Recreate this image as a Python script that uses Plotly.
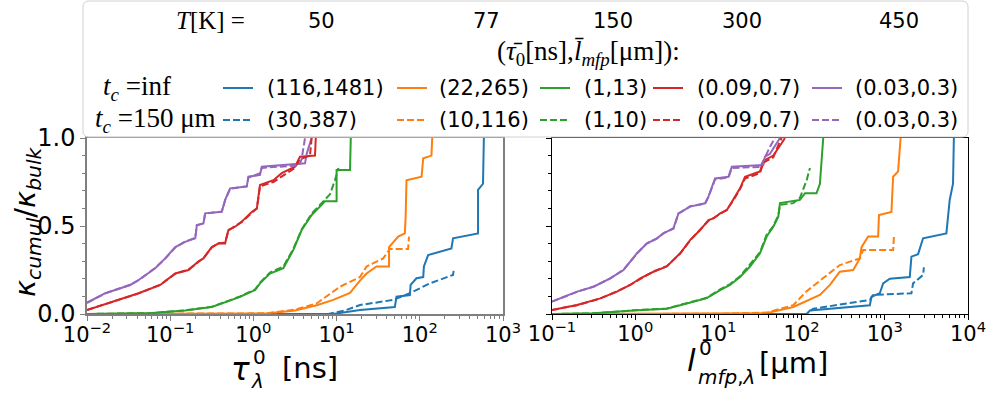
import plotly.graph_objects as go

W, H = 991, 394

# ---------------- data ----------------
temps = ["50", "77", "150", "300", "450"]
labels_inf = ["(116,1481)", "(22,265)", "(1,13)", "(0.09,0.7)", "(0.03,0.3)"]
labels_150 = ["(30,387)", "(10,116)", "(1,10)", "(0.09,0.7)", "(0.03,0.3)"]
colors = ["#1f77b4", "#ff7f0e", "#2ca02c", "#d62728", "#9467bd"]

left_tick_vals = [1e-2, 1e-1, 1e0, 1e1, 1e2, 1e3]
left_tick_text = ["10<sup>−2</sup>", "10<sup>−1</sup>", "10<sup>0</sup>", "10<sup>1</sup>", "10<sup>2</sup>", "10<sup>3</sup>"]
right_tick_vals = [1e-1, 1e0, 1e1, 1e2, 1e3, 1e4]
right_tick_text = ["10<sup>−1</sup>", "10<sup>0</sup>", "10<sup>1</sup>", "10<sup>2</sup>", "10<sup>3</sup>", "10<sup>4</sup>"]
y_tick_vals = [0.0, 0.5, 1.0]
y_tick_text = ["0.0", "0.5", "1.0"]

# --- left panel: kappa_cumul / kappa_bulk vs tau [ns] ---
tau_50_inf_x = [0.01, 9.12, 19.1, 31.6, 50.1, 52.5, 75.9, 77.6, 91.2, 110, 112, 126, 240, 251, 501, 501, 575, 589]
tau_50_inf_y = [0.0, 0.0, 0.023, 0.03, 0.04, 0.098, 0.108, 0.165, 0.203, 0.21, 0.27, 0.335, 0.373, 0.43, 0.458, 0.705, 0.74, 1.0]
tau_50_150_x = [0.01, 7.94, 12.6, 19.1, 47.9, 75.9, 132, 251, 257]
tau_50_150_y = [0.0, 0.0, 0.02, 0.051, 0.08, 0.118, 0.174, 0.222, 0.26]

tau_77_inf_x = [0.01, 1.0, 1.45, 3.16, 5.75, 9.12, 14.5, 19.1, 22.9, 30.2, 42.7, 42.7, 47.9, 55.0, 66.1, 67.6, 69.2, 105, 110, 138, 141]
tau_77_inf_y = [0.0, 0.001, 0.003, 0.02, 0.05, 0.08, 0.12, 0.19, 0.23, 0.27, 0.27, 0.38, 0.41, 0.44, 0.458, 0.553, 0.76, 0.78, 0.885, 0.90, 1.0]
tau_77_150_x = [0.01, 1.45, 3.16, 5.75, 11.0, 19.1, 22.9, 36.3, 43.7, 72.4, 74.1]
tau_77_150_y = [0.0, 0.004, 0.025, 0.06, 0.155, 0.21, 0.27, 0.316, 0.37, 0.37, 0.44]

tau_150_inf_x = [0.01, 0.0316, 0.0603, 0.151, 0.316, 0.550, 0.692, 1.05, 1.20, 1.58, 2.29, 3.02, 3.80, 4.57, 5.01, 6.61, 7.24, 10.0, 10.0, 14.5, 14.8]
tau_150_inf_y = [0.0, 0.003, 0.005, 0.02, 0.04, 0.08, 0.098, 0.136, 0.174, 0.23, 0.26, 0.364, 0.477, 0.534, 0.5625, 0.62, 0.64, 0.64, 0.818, 0.818, 1.0]
tau_150_150_x = [0.01, 0.0316, 0.0603, 0.151, 0.316, 0.550, 0.692, 1.05, 1.20, 1.58, 2.29, 3.02, 3.80, 4.57, 5.01, 6.61, 7.59, 8.32, 9.55, 10.5]
tau_150_150_y = [0.0, 0.003, 0.005, 0.021, 0.041, 0.082, 0.10, 0.14, 0.178, 0.235, 0.27, 0.37, 0.48, 0.54, 0.57, 0.63, 0.66, 0.68, 0.76, 0.83]

tau_300_inf_x = [0.01, 0.024, 0.0417, 0.0759, 0.115, 0.166, 0.219, 0.251, 0.316, 0.380, 0.457, 0.501, 0.603, 0.724, 0.955, 1.10, 1.15, 1.20, 1.74, 2.19, 3.16, 3.63, 5.50, 5.62]
tau_300_inf_y = [0.023, 0.08, 0.118, 0.165, 0.23, 0.25, 0.30, 0.316, 0.38, 0.40, 0.40, 0.477, 0.496, 0.525, 0.58, 0.60, 0.667, 0.733, 0.76, 0.80, 0.837, 0.894, 0.90, 1.0]
tau_300_150_x = [0.01, 0.024, 0.0417, 0.0759, 0.115, 0.166, 0.219, 0.251, 0.316, 0.380, 0.457, 0.501, 0.603, 0.724, 0.955, 1.10, 1.15, 1.20, 1.74, 2.19, 3.16, 3.63, 4.79, 5.01]
tau_300_150_y = [0.023, 0.079, 0.117, 0.166, 0.229, 0.252, 0.298, 0.318, 0.378, 0.402, 0.405, 0.475, 0.50, 0.522, 0.575, 0.60, 0.66, 0.725, 0.75, 0.78, 0.83, 0.88, 0.90, 1.0]

tau_450_inf_x = [0.01, 0.0166, 0.0331, 0.0417, 0.0661, 0.0871, 0.115, 0.151, 0.200, 0.209, 0.251, 0.263, 0.417, 0.457, 0.525, 0.832, 0.871, 1.20, 1.26, 4.17, 4.37, 4.79, 5.01]
tau_450_inf_y = [0.064, 0.118, 0.165, 0.193, 0.26, 0.316, 0.38, 0.41, 0.43, 0.506, 0.515, 0.572, 0.581, 0.648, 0.714, 0.724, 0.78, 0.79, 0.837, 0.856, 0.91, 0.97, 1.0]
tau_450_150_x = [0.01, 0.0166, 0.0331, 0.0417, 0.0661, 0.0871, 0.115, 0.151, 0.200, 0.209, 0.251, 0.263, 0.417, 0.457, 0.525, 0.832, 0.871, 1.20, 1.26, 3.55, 3.80, 3.98, 4.17]
tau_450_150_y = [0.064, 0.117, 0.166, 0.192, 0.262, 0.315, 0.378, 0.412, 0.432, 0.503, 0.516, 0.57, 0.583, 0.645, 0.712, 0.726, 0.775, 0.80, 0.83, 0.845, 0.88, 0.95, 1.0]

# --- right panel: kappa_cumul / kappa_bulk vs l_mfp [um] ---
mfp_50_inf_x = [0.1, 115, 126, 347, 661, 692, 871, 955, 1148, 1995, 2089, 2512, 2884, 5495, 6026, 6607, 6761]
mfp_50_inf_y = [0.0, 0.0, 0.02, 0.04, 0.05, 0.098, 0.118, 0.174, 0.20, 0.21, 0.326, 0.34, 0.43, 0.458, 0.648, 0.74, 1.0]
mfp_50_150_x = [0.1, 115, 138, 661, 724, 2089, 2188, 2884, 2951]
mfp_50_150_y = [0.0, 0.0, 0.03, 0.08, 0.108, 0.118, 0.174, 0.222, 0.265]

mfp_77_inf_x = [0.1, 10, 38.0, 79.4, 126, 166, 219, 288, 417, 501, 525, 631, 832, 851, 1202, 1259, 1445, 1514, 1549]
mfp_77_inf_y = [0.0, 0.001, 0.005, 0.04, 0.08, 0.108, 0.165, 0.24, 0.25, 0.316, 0.38, 0.44, 0.44, 0.5625, 0.58, 0.78, 0.81, 0.91, 1.0]
mfp_77_150_x = [0.1, 10, 38.0, 79.4, 115, 166, 288, 501, 550, 1259, 1288]
mfp_77_150_y = [0.0, 0.001, 0.008, 0.05, 0.13, 0.19, 0.278, 0.316, 0.364, 0.364, 0.44]

mfp_150_inf_x = [0.1, 0.316, 0.955, 2.40, 4.17, 7.24, 10.5, 13.8, 18.2, 24.0, 31.6, 38.0, 45.7, 52.5, 55.0, 72.4, 95.5, 110, 151, 166, 182]
mfp_150_inf_y = [0.0, 0.004, 0.02, 0.03, 0.06, 0.09, 0.136, 0.165, 0.21, 0.27, 0.345, 0.44, 0.496, 0.553, 0.63, 0.64, 0.648, 0.686, 0.686, 0.74, 1.0]
mfp_150_150_x = [0.1, 0.316, 0.955, 2.40, 4.17, 7.24, 10.5, 13.8, 18.2, 24.0, 31.6, 38.0, 45.7, 52.5, 55.0, 79.4, 95.5, 115, 126]
mfp_150_150_y = [0.0, 0.004, 0.021, 0.031, 0.062, 0.092, 0.14, 0.17, 0.215, 0.28, 0.35, 0.45, 0.50, 0.56, 0.62, 0.63, 0.66, 0.76, 0.83]

mfp_300_inf_x = [0.1, 0.2, 0.380, 0.603, 0.871, 1.15, 1.66, 2.40, 3.47, 4.57, 6.03, 7.59, 8.71, 10.5, 12.6, 15.1, 18.2, 20.9, 31.6, 34.7, 45.7, 57.5, 63.1]
mfp_300_inf_y = [0.023, 0.051, 0.089, 0.127, 0.165, 0.203, 0.24, 0.27, 0.345, 0.42, 0.477, 0.534, 0.543, 0.572, 0.59, 0.648, 0.714, 0.78, 0.81, 0.87, 0.90, 0.97, 1.0]
mfp_300_150_x = [0.1, 0.2, 0.380, 0.603, 0.871, 1.15, 1.66, 2.40, 3.47, 4.57, 6.03, 7.59, 8.71, 10.5, 12.6, 15.1, 18.2, 20.9, 31.6, 34.7, 45.7, 52.5, 57.5]
mfp_300_150_y = [0.023, 0.05, 0.088, 0.128, 0.166, 0.20, 0.242, 0.272, 0.343, 0.418, 0.48, 0.53, 0.545, 0.57, 0.592, 0.645, 0.71, 0.77, 0.80, 0.86, 0.89, 0.96, 1.0]

mfp_450_inf_x = [0.1, 0.2, 0.316, 0.501, 0.724, 1.05, 1.38, 1.82, 2.19, 2.88, 3.31, 4.57, 6.92, 7.59, 9.12, 13.2, 14.5, 34.7, 36.3, 41.7, 50.1, 55.0]
mfp_450_inf_y = [0.07, 0.127, 0.155, 0.203, 0.25, 0.345, 0.40, 0.43, 0.458, 0.487, 0.572, 0.61, 0.629, 0.667, 0.77, 0.78, 0.837, 0.847, 0.894, 0.91, 0.97, 1.0]
mfp_450_150_x = [0.1, 0.2, 0.316, 0.501, 0.724, 1.05, 1.38, 1.82, 2.19, 2.88, 3.31, 4.57, 6.92, 7.59, 9.12, 13.2, 14.5, 31.6, 35.5, 41.7, 47.9]
mfp_450_150_y = [0.07, 0.126, 0.156, 0.202, 0.252, 0.343, 0.402, 0.428, 0.46, 0.485, 0.57, 0.612, 0.627, 0.665, 0.765, 0.775, 0.83, 0.835, 0.88, 0.95, 1.0]

left_inf = [(tau_50_inf_x, tau_50_inf_y), (tau_77_inf_x, tau_77_inf_y), (tau_150_inf_x, tau_150_inf_y),
            (tau_300_inf_x, tau_300_inf_y), (tau_450_inf_x, tau_450_inf_y)]
left_150 = [(tau_50_150_x, tau_50_150_y), (tau_77_150_x, tau_77_150_y), (tau_150_150_x, tau_150_150_y),
            (tau_300_150_x, tau_300_150_y), (tau_450_150_x, tau_450_150_y)]
right_inf = [(mfp_50_inf_x, mfp_50_inf_y), (mfp_77_inf_x, mfp_77_inf_y), (mfp_150_inf_x, mfp_150_inf_y),
             (mfp_300_inf_x, mfp_300_inf_y), (mfp_450_inf_x, mfp_450_inf_y)]
right_150 = [(mfp_50_150_x, mfp_50_150_y), (mfp_77_150_x, mfp_77_150_y), (mfp_150_150_x, mfp_150_150_y),
             (mfp_300_150_x, mfp_300_150_y), (mfp_450_150_x, mfp_450_150_y)]

# ---------------- figure ----------------
fig = go.Figure()
DASH = "7px,3px"

for i in range(5):
    for (xs, ys), xa, ya in [(left_inf[i], "x", "y"), (right_inf[i], "x2", "y2")]:
        fig.add_trace(go.Scatter(x=xs, y=ys, xaxis=xa, yaxis=ya, mode="lines",
                                 line=dict(color=colors[i], width=2), showlegend=False,
                                 cliponaxis=True))
for i in range(5):
    for (xs, ys), xa, ya in [(left_150[i], "x", "y"), (right_150[i], "x2", "y2")]:
        fig.add_trace(go.Scatter(x=xs, y=ys, xaxis=xa, yaxis=ya, mode="lines",
                                 line=dict(color=colors[i], width=2, dash=DASH), showlegend=False,
                                 cliponaxis=True))


def px(x):
    return x / W


def py(y):
    return 1 - y / H


PLOT_TOP, PLOT_BOT = 138, 314
ydom = [py(PLOT_BOT), py(PLOT_TOP)]
SANS = "DejaVu Sans"
SERIF = "Liberation Serif"

minor_left = [m * 10.0 ** e for e in range(-2, 3) for m in range(2, 10)]
minor_right = [m * 10.0 ** e for e in range(-1, 4) for m in range(2, 10)]

common_x = dict(type="log", showgrid=False, zeroline=False, showline=True, mirror=True,
                automargin=False, ticklabelstandoff=-4,
                ticks="outside", ticklen=5, tickwidth=1, tickmode="array",
                tickfont=dict(family=SANS, size=21, color="black"))
common_y = dict(range=[0, 1], showgrid=False, zeroline=False, showline=True, mirror=True,
                automargin=False,
                ticks="outside", ticklen=5, tickwidth=1, tickmode="array",
                tickvals=y_tick_vals, ticktext=y_tick_text, domain=ydom,
                tickfont=dict(family=SANS, size=24, color="black"))

GRAY = "#7f7f7f"
fig.update_layout(
    width=W, height=H, margin=dict(l=0, r=0, t=0, b=0, autoexpand=False),
    paper_bgcolor="white", plot_bgcolor="white", showlegend=False,
    xaxis=dict(common_x, domain=[px(87), px(503)], range=[-2, 3], anchor="y",
               tickvals=left_tick_vals, ticktext=left_tick_text,
               linecolor=GRAY, linewidth=1.5, tickcolor=GRAY,
               minor=dict(tickmode="array", tickvals=minor_left, ticks="outside", ticklen=3,
                          tickcolor=GRAY, showgrid=False)),
    yaxis=dict(common_y, anchor="x", linecolor=GRAY, linewidth=1.5, tickcolor=GRAY,
               minor=dict(dtick=0.1, ticks="outside", ticklen=3, tickcolor=GRAY, showgrid=False)),
    xaxis2=dict(common_x, domain=[px(552), px(968)], range=[-1, 4], anchor="y2",
                tickvals=right_tick_vals, ticktext=right_tick_text,
                linecolor="black", linewidth=1.2, tickcolor="black",
                minor=dict(tickmode="array", tickvals=minor_right, ticks="outside", ticklen=3,
                           tickcolor="black", showgrid=False)),
    yaxis2=dict(common_y, anchor="x2", showticklabels=False, linecolor="black", linewidth=1.2,
                tickcolor="black",
                minor=dict(dtick=0.1, ticks="outside", ticklen=3, tickcolor="black", showgrid=False)),
)

# ---------------- legend box (rounded, semi-transparent) ----------------
x0, x1, y0, y1, r = 83, 968, 1, 137, 6
path = (f"M {px(x0 + r)},{py(y0)} L {px(x1 - r)},{py(y0)} Q {px(x1)},{py(y0)} {px(x1)},{py(y0 + r)} "
        f"L {px(x1)},{py(y1 - r)} Q {px(x1)},{py(y1)} {px(x1 - r)},{py(y1)} "
        f"L {px(x0 + r)},{py(y1)} Q {px(x0)},{py(y1)} {px(x0)},{py(y1 - r)} "
        f"L {px(x0)},{py(y0 + r)} Q {px(x0)},{py(y0)} {px(x0 + r)},{py(y0)} Z")
fig.add_shape(type="path", path=path, xref="paper", yref="paper",
              fillcolor="rgba(255,255,255,0.85)", line=dict(color="#d0d0d0", width=1), layer="above")

ann = []
LEG_FONT = 21
# row 1: temperatures
ann.append(dict(x=px(247), y=py(21), text="<i>T</i>[K] =", xanchor="right",
                font=dict(family=SERIF, size=25, color="black")))
for t, cx in zip(temps, [321, 486, 613, 742, 899]):
    ann.append(dict(x=px(cx), y=py(21), text=t, xanchor="center",
                    font=dict(family=SANS, size=LEG_FONT, color="black")))
# row 2
ann.append(dict(x=px(682), y=py(53),
                text="(<i>τ̄</i><sub>0</sub>[ns],<i>l̄</i><sub><i>mfp</i></sub>[μm]):",
                xanchor="right", font=dict(family=SERIF, size=27, color="black")))
# rows 3 & 4
ann.append(dict(x=px(173), y=py(88), text="<i>t</i><sub><i>c</i></sub> =inf", xanchor="right",
                font=dict(family=SERIF, size=27, color="black")))
ann.append(dict(x=px(218), y=py(120), text="<i>t</i><sub><i>c</i></sub> =150 μm", xanchor="right",
                font=dict(family=SERIF, size=27, color="black")))
line_x = [(223, 253), (397, 427), (540, 570), (653, 683), (812, 842)]
text_x = [265, 437, 582, 695, 853]
for i in range(5):
    for lab, yrow, dash in [(labels_inf[i], 88, "solid"), (labels_150[i], 120, DASH)]:
        fig.add_shape(type="line", xref="paper", yref="paper",
                      x0=px(line_x[i][0]), x1=px(line_x[i][1]), y0=py(yrow), y1=py(yrow),
                      line=dict(color=colors[i], width=2, dash=dash), layer="above")
        ann.append(dict(x=px(text_x[i]), y=py(yrow), text=lab, xanchor="left",
                        font=dict(family=SANS, size=LEG_FONT, color="black")))

# ---------------- axis titles ----------------
ann.append(dict(x=px(27), y=py(222), text="<i>κ<sub>cumul</sub></i>/<i>κ<sub>bulk</sub></i>",
                textangle=-90, xanchor="center", font=dict(family=SANS, size=29, color="black")))
# left x title: tau^0_lambda [ns]
ann.append(dict(x=px(229), y=py(369), text="<i>τ</i>", xanchor="left", font=dict(family=SANS, size=31, color="black")))
ann.append(dict(x=px(251), y=py(357), text="0", xanchor="left", font=dict(family=SANS, size=20, color="black")))
ann.append(dict(x=px(249), y=py(381), text="<i>λ</i>", xanchor="left", font=dict(family=SANS, size=20, color="black")))
ann.append(dict(x=px(280), y=py(368), text="[ns]", xanchor="left", font=dict(family=SANS, size=29, color="black")))
# right x title: l^0_{mfp,lambda} [um]
ann.append(dict(x=px(685), y=py(360), text="<i>l</i>", xanchor="left", font=dict(family=SANS, size=31, color="black")))
ann.append(dict(x=px(697), y=py(348), text="0", xanchor="left", font=dict(family=SANS, size=20, color="black")))
ann.append(dict(x=px(696), y=py(377), text="<i>mfp</i>,<i>λ</i>", xanchor="left", font=dict(family=SANS, size=20, color="black")))
ann.append(dict(x=px(757), y=py(363), text="[μm]", xanchor="left", font=dict(family=SANS, size=29, color="black")))

for a in ann:
    a.update(xref="paper", yref="paper", showarrow=False, yanchor="middle")
fig.update_layout(annotations=ann)

fig.write_html("out.html")
